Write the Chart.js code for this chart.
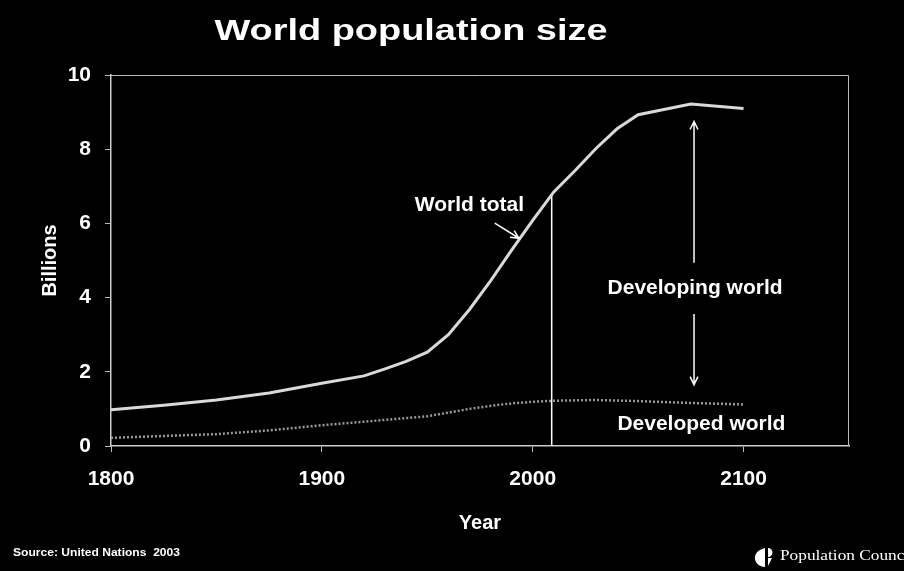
<!DOCTYPE html>
<html>
<head>
<meta charset="utf-8">
<script src="https://cdn.jsdelivr.net/npm/chart.js@4.4.1/dist/chart.umd.min.js"></script>
<style>
    html, body { margin: 0; padding: 0; background: #000; }
    #chart { display: block; }
</style>
</head>
<body>
<canvas id="chart" width="904" height="571"></canvas>
<script>
// world total, billions
const years = [1800, 1825, 1850, 1875, 1900, 1920, 1930, 1940, 1950, 1960, 1970, 1980, 1990, 2000, 2010, 2020, 2030, 2040, 2050, 2075, 2100]
const worldTotal = [0.98, 1.1, 1.24, 1.43, 1.69, 1.89, 2.08, 2.28, 2.53, 3.0, 3.68, 4.45, 5.28, 6.08, 6.85, 7.42, 8.02, 8.55, 8.93, 9.22, 9.1]
// developed world, billions
const devYears = [1800, 1825, 1850, 1875, 1900, 1925, 1950, 1960, 1970, 1980, 1990, 2000, 2010, 2030, 2050, 2075, 2100]
const developed = [0.22, 0.27, 0.32, 0.42, 0.56, 0.68, 0.8, 0.9, 1.0, 1.08, 1.15, 1.19, 1.22, 1.24, 1.21, 1.16, 1.12]
// "today" marker
const markerYears = [2009, 2009]
const markerValues = [0, 6.8]
const tickYears = [1800, 1900, 2000, 2100]

const fontFamily = "'Liberation Sans', Arial, sans-serif"
Chart.defaults.font.family = fontFamily
Chart.defaults.color = '#fff'

function drawText(ctx, text, x, y, font, align, width) {
    ctx.font = font
    ctx.textAlign = align
    ctx.textBaseline = 'middle'
    let sx = 1
    if (width) sx = width / ctx.measureText(text).width
    ctx.save()
    ctx.translate(x, y)
    ctx.scale(sx, 1)
    ctx.fillText(text, 0, 0)
    ctx.restore()
}

function arrow(ctx, x1, y1, x2, y2) {
    const ang = Math.atan2(y2 - y1, x2 - x1)
    const h = 9
    ctx.beginPath()
    ctx.moveTo(x1, y1)
    ctx.lineTo(x2, y2)
    ctx.moveTo(x2 - h * Math.cos(ang - 0.45), y2 - h * Math.sin(ang - 0.45))
    ctx.lineTo(x2, y2)
    ctx.lineTo(x2 - h * Math.cos(ang + 0.45), y2 - h * Math.sin(ang + 0.45))
    ctx.stroke()
}

const annotations = {
    id: 'annotations',
    afterDraw(chart) {
        const {ctx, chartArea: a, scales: {x, y}} = chart
        ctx.save()
        // frame top + right
        ctx.strokeStyle = '#bbb'
        ctx.lineWidth = 1
        ctx.beginPath()
        ctx.moveTo(a.left, a.top + 0.5)
        ctx.lineTo(a.right - 0.5, a.top + 0.5)
        ctx.lineTo(a.right - 0.5, a.bottom)
        ctx.stroke()

        ctx.fillStyle = '#fff'
        ctx.strokeStyle = '#fff'
        ctx.lineWidth = 1.5
        const bold = 'bold 21px ' + fontFamily
        drawText(ctx, 'World total', x.getPixelForValue(1970), y.getPixelForValue(6.5), bold, 'center')
        arrow(ctx, x.getPixelForValue(1982), y.getPixelForValue(6.01), x.getPixelForValue(1993.5), y.getPixelForValue(5.6))

        drawText(ctx, 'Developing world', x.getPixelForValue(2077), y.getPixelForValue(4.26), bold, 'center')
        const ax = x.getPixelForValue(2076.5)
        arrow(ctx, ax, y.getPixelForValue(4.94), ax, y.getPixelForValue(8.75))
        arrow(ctx, ax, y.getPixelForValue(3.56), ax, y.getPixelForValue(1.65))

        drawText(ctx, 'Developed world', x.getPixelForValue(2080), y.getPixelForValue(0.58), bold, 'center')

        // slide title and footer
        drawText(ctx, 'World population size', 411, 32, 'bold 30px ' + fontFamily, 'center', 393)
        drawText(ctx, 'Source: United Nations  2003', 13, 553, 'bold 11px ' + fontFamily, 'left', 167)

        // Population Council logo
        ctx.beginPath()
        ctx.moveTo(765, 548)
        ctx.bezierCurveTo(751, 551, 752, 566, 765, 567)
        ctx.closePath()
        ctx.fill()
        ctx.beginPath()
        ctx.moveTo(768, 548)
        ctx.arc(768, 552.5, 4.5, -Math.PI / 2, Math.PI / 2)
        ctx.lineTo(768, 566)
        ctx.lineTo(772, 558)
        ctx.lineTo(768, 558)
        ctx.closePath()
        ctx.fill()
        drawText(ctx, 'Population Council', 780, 556, "14px 'Liberation Serif', serif", 'left', 134)
        ctx.restore()
    }
}

const ctx = document.getElementById('chart').getContext('2d')
new Chart(ctx, {
    type: 'line',
    data: {
        datasets: [{
            label: 'World total',
            data: years.map((yr, i) => ({x: yr, y: worldTotal[i]})),
            borderColor: '#d9d9d9',
            borderWidth: 3,
            pointRadius: 0,
            tension: 0
        }, {
            label: 'Developed world',
            data: devYears.map((yr, i) => ({x: yr, y: developed[i]})),
            borderColor: '#9a9a9a',
            borderWidth: 2.5,
            borderDash: [2, 2],
            pointRadius: 0,
            tension: 0
        }, {
            label: 'marker',
            data: markerYears.map((yr, i) => ({x: yr, y: markerValues[i]})),
            borderColor: '#fff',
            borderWidth: 1.5,
            pointRadius: 0
        }]
    },
    options: {
        responsive: false,
        animation: false,
        layout: {padding: {left: 34, right: 55, top: 75, bottom: 32}},
        plugins: {legend: {display: false}, tooltip: {enabled: false}},
        scales: {
            x: {
                type: 'linear',
                min: 1800,
                max: 2150,
                afterBuildTicks: s => { s.ticks = tickYears.map(v => ({value: v})) },
                afterFit: s => { s.height = 93 },
                ticks: {color: '#fff', font: {size: 21, weight: 'bold'}, padding: 15, callback: v => String(v)},
                grid: {display: true, drawOnChartArea: false, drawTicks: true, tickLength: 6, color: '#bbb'},
                border: {color: '#ccc', width: 1.5},
                title: {display: true, text: 'Year', color: '#fff', font: {size: 20, weight: 'bold'}, padding: {top: 19, bottom: 4}}
            },
            y: {
                min: 0,
                max: 10,
                afterFit: s => { s.width = 77 },
                ticks: {stepSize: 2, color: '#fff', font: {size: 21, weight: 'bold'}, padding: 14},
                grid: {display: true, drawOnChartArea: false, drawTicks: true, tickLength: 6, color: '#bbb'},
                border: {color: '#ccc', width: 1.5},
                title: {display: true, text: 'Billions', color: '#fff', font: {size: 20, weight: 'bold'}, padding: {top: 4, bottom: 4}}
            }
        }
    },
    plugins: [annotations]
})
</script>
</body>
</html>
